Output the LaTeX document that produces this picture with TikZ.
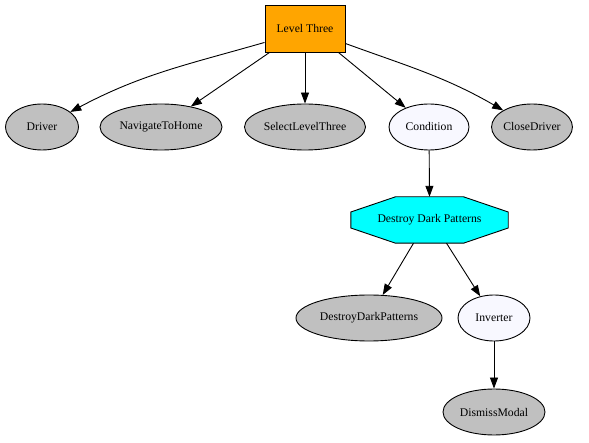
\documentclass[tikz,border=0pt]{standalone}
\usepackage{fontspec}
\setmainfont{Liberation Serif}
\usetikzlibrary{shapes.geometric,arrows.meta}
\definecolor{gvorange}{HTML}{FFA500}
\definecolor{gvgray}{HTML}{C0C0C0}
\definecolor{gvghost}{HTML}{F8F8FF}
\definecolor{gvcyan}{HTML}{00FFFF}
\tikzset{
  base/.style={font=\fontsize{11.7}{14}\selectfont, inner sep=0pt, line width=0.9pt, draw=black},
  ell/.style={base, ellipse, minimum height=46pt},
  grayell/.style={ell, fill=gvgray},
  whiteell/.style={ell, fill=gvghost},
  edge/.style={line width=0.9pt, -{Triangle[length=11pt,width=8pt]}},
}
\begin{document}
\begin{tikzpicture}[x=1pt,y=-1pt]
\useasboundingbox (0,0) rectangle (589,443);
\node[base, rectangle, fill=gvorange, minimum width=80pt, minimum height=47pt] (lt) at (305,28.5) {Level Three};
\node[grayell, minimum width=73pt] (drv) at (42,127) {Driver};
\node[grayell, minimum width=122pt] (nav) at (161,127) {NavigateToHome};
\node[grayell, minimum width=121pt] (sel) at (305,127) {SelectLevelThree};
\node[whiteell, minimum width=80pt] (cond) at (429,127) {Condition};
\node[grayell, minimum width=80pt] (close) at (532,127) {CloseDriver};
% octagon
\node[inner sep=0pt, minimum width=157pt, minimum height=46pt] (dp) at (429.5,220) {};
\filldraw[fill=gvcyan, draw=black, line width=0.9pt]
  ([xshift=-34pt]dp.north) -- ([xshift=34pt]dp.north) -- ([yshift=8pt]dp.east) -- ([yshift=-8pt]dp.east)
  -- ([xshift=34pt]dp.south) -- ([xshift=-34pt]dp.south) -- ([yshift=-8pt]dp.west) -- ([yshift=8pt]dp.west) -- cycle;
\node[font=\fontsize{11.7}{14}\selectfont] at (dp) {Destroy Dark Patterns};
\node[grayell, minimum width=146pt] (ddp) at (369,318) {DestroyDarkPatterns};
\node[whiteell, minimum width=72pt] (inv) at (494,318) {Inverter};
\node[grayell, minimum width=102pt] (dm) at (494,412) {DismissModal};
% edges
\draw[edge] ([yshift=10pt]lt.south west) to[out=196,in=28] (drv);
\draw[edge] ([xshift=5pt]lt.south west) -- (nav);
\draw[edge] (lt) -- (sel);
\draw[edge] ([xshift=-7pt]lt.south east) -- (cond);
\draw[edge] ([yshift=-15pt]lt.east) to[out=-20,in=150] (close);
\draw[edge] (cond) -- (dp.north);
\draw[edge] ([xshift=-16pt]dp.south) -- (ddp);
\draw[edge] ([xshift=17pt]dp.south) -- (inv);
\draw[edge] (inv) -- (dm);
\end{tikzpicture}
\end{document}
